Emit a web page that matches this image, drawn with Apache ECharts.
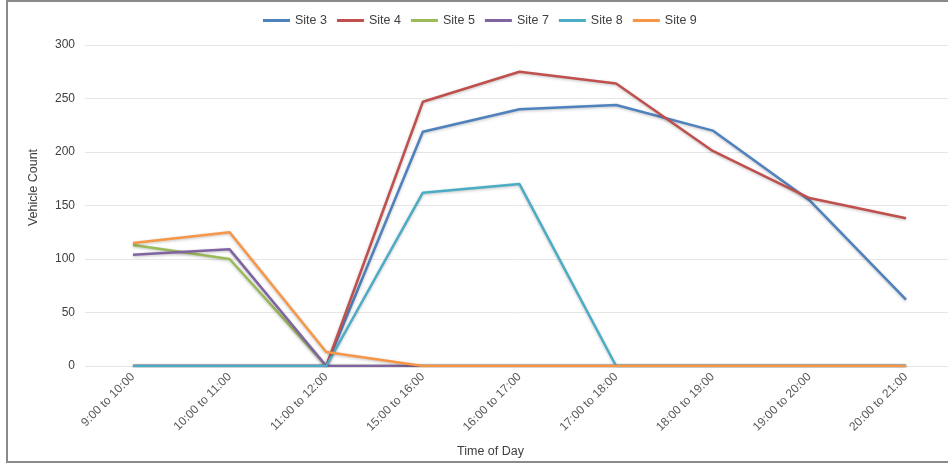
<!DOCTYPE html>
<html>
<head>
<meta charset="utf-8">
<script src="https://cdn.jsdelivr.net/npm/echarts@6/dist/echarts.min.js"></script>
<style>
  html, body { margin: 0; padding: 0; background: #fff; }
  #chart { width: 948px; height: 465px; }
</style>
</head>
<body>
<div id="chart"></div>
<script>
// Hourly vehicle counts per survey site
const categories = ['9:00 to 10:00', '10:00 to 11:00', '11:00 to 12:00', '15:00 to 16:00',
  '16:00 to 17:00', '17:00 to 18:00', '18:00 to 19:00', '19:00 to 20:00', '20:00 to 21:00'];
const site3 = [0, 0, 0, 219, 240, 244, 220, 155, 62];
const site4 = [0, 0, 0, 247, 275, 264, 201, 157, 138];
const site5 = [113, 100, 0, 0, 0, 0, 0, 0, 0];
const site7 = [104, 109, 0, 0, 0, 0, 0, 0, 0];
const site8 = [0, 0, 0, 162, 170, 0, 0, 0, 0];
const site9 = [115, 125, 13, 0, 0, 0, 0, 0, 0];
const yTicks = [0, 50, 100, 150, 200, 250, 300];

const seriesList = [
  { name: 'Site 3', data: site3, color: '#4F81BD' },
  { name: 'Site 4', data: site4, color: '#C0504D' },
  { name: 'Site 5', data: site5, color: '#9BBB59' },
  { name: 'Site 7', data: site7, color: '#8064A2' },
  { name: 'Site 8', data: site8, color: '#4BACC6' },
  { name: 'Site 9', data: site9, color: '#F79646' }
];

const font = 'Liberation Sans, Arial, sans-serif';
const yMin = yTicks[0];
const yMax = yTicks[yTicks.length - 1];
const chart = echarts.init(document.getElementById('chart'), null, { renderer: 'canvas' });

chart.setOption({
  animation: false,
  backgroundColor: '#ffffff',
  textStyle: { fontFamily: font },
  color: seriesList.map(s => s.color),
  graphic: [{
    type: 'rect',
    shape: { x: 7, y: 1, width: 1000, height: 461 },
    style: { fill: 'none', stroke: '#8a8a8a', lineWidth: 2 },
    silent: true,
    z: 100
  }],
  legend: {
    left: 258,
    top: 9,
    icon: 'rect',
    itemWidth: 27,
    itemHeight: 3,
    itemGap: 10,
    textStyle: { fontFamily: font, fontSize: 12.5, color: '#404040' },
    data: seriesList.map(s => s.name)
  },
  // Grid 0: the wide background panel with the value gridlines and labels.
  // Grid 1: the plotted lines, with the time slots placed on the tick points.
  grid: [
    { left: 85, top: 45, right: 0, height: 321 },
    { left: 133, top: 45, width: 773, height: 321 }
  ],
  xAxis: [
    {
      gridIndex: 0,
      type: 'value',
      min: 0,
      max: 1,
      show: false
    },
    {
      gridIndex: 1,
      type: 'category',
      data: categories,
      boundaryGap: false,
      axisLine: { show: false },
      axisTick: { show: false },
      splitLine: { show: false },
      axisLabel: {
        rotate: 45,
        interval: 0,
        margin: 9,
        fontFamily: font,
        fontSize: 12,
        color: '#595959'
      },
      name: 'Time of Day',
      nameLocation: 'middle',
      nameGap: 79,
      nameTextStyle: { fontFamily: font, fontSize: 12.5, color: '#404040', padding: [0, 58, 0, 0] }
    }
  ],
  yAxis: [
    {
      gridIndex: 0,
      type: 'value',
      min: yMin,
      max: yMax,
      interval: 50,
      axisLine: { show: false },
      axisTick: { show: false },
      splitLine: { show: true, lineStyle: { color: '#e6e6e6', width: 1 } },
      axisLabel: { margin: 10, fontFamily: font, fontSize: 12, color: '#404040' },
      name: 'Vehicle Count',
      nameLocation: 'middle',
      nameRotate: 90,
      nameGap: 45,
      nameTextStyle: { fontFamily: font, fontSize: 12.5, color: '#404040', padding: [0, 0, 0, 36] }
    },
    {
      gridIndex: 1,
      type: 'value',
      min: yMin,
      max: yMax,
      interval: 50,
      show: false,
      splitLine: { show: false }
    }
  ],
  series: seriesList.map(s => ({
    name: s.name,
    type: 'line',
    xAxisIndex: 1,
    yAxisIndex: 1,
    data: s.data,
    showSymbol: false,
    symbol: 'none',
    lineStyle: {
      color: s.color,
      width: 2.5,
      shadowColor: 'rgba(0,0,0,0.25)',
      shadowBlur: 3,
      shadowOffsetY: 1
    },
    itemStyle: { color: s.color }
  }))
});
</script>
</body>
</html>
